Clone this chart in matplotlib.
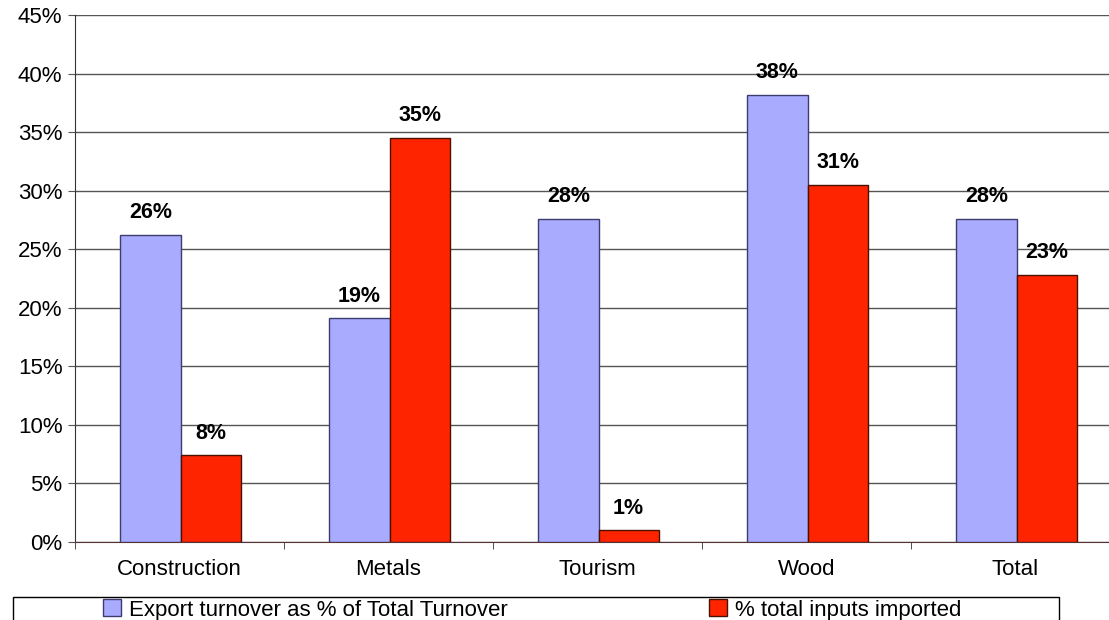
import matplotlib.pyplot as plt
from matplotlib.patches import Rectangle
import numpy as np

plt.rcParams['font.family'] = ['Liberation Sans', 'DejaVu Sans']

categories = ['Construction', 'Metals', 'Tourism', 'Wood', 'Total']
export_share = [26.2, 19.1, 27.6, 38.2, 27.6]
inputs_imported = [7.4, 34.5, 1.0, 30.5, 22.8]
export_labels = ['26%', '19%', '28%', '38%', '28%']
inputs_labels = ['8%', '35%', '1%', '31%', '23%']

W, H = 1109, 620
fig = plt.figure(figsize=(W / 100, H / 100), dpi=100)
# plot area runs a little past the right edge of the picture, as in the original
ax = fig.add_axes([75 / W, 1 - 542 / H, 1045 / W, 527 / H])

x = np.arange(len(categories))
w = 0.288
b1 = ax.bar(x - w / 2 + 0.005, export_share, w, color='#a9abff', edgecolor='#3c3c6e',
            linewidth=1, label='Export turnover as % of Total Turnover', zorder=3)
b2 = ax.bar(x + w / 2 + 0.005, inputs_imported, w, color='#ff2400', edgecolor='#4a1000',
            linewidth=1, label='% total inputs imported', zorder=3)

for bars, labels in ((b1, export_labels), (b2, inputs_labels)):
    for rect, lab in zip(bars, labels):
        ax.text(rect.get_x() + rect.get_width() / 2, rect.get_height() + 1.0, lab,
                ha='center', va='bottom', fontsize=15.5, fontweight='bold')

ax.set_xlim(-0.5, len(categories) - 0.5)
ax.set_ylim(0, 45)
ax.set_yticks(np.arange(0, 46, 5))
ax.set_yticklabels([f'{v}%' for v in range(0, 46, 5)], fontsize=16)
ax.yaxis.grid(True, color='#555555', linewidth=1, zorder=0)
ax.set_axisbelow(True)

ax.set_xticks(x)
ax.set_xticklabels(categories, fontsize=16)
ax.tick_params(axis='x', length=0, pad=12)
ax.set_xticks(np.arange(-0.5, len(categories), 1), minor=True)
ax.tick_params(axis='x', which='minor', length=5, color='#333333', direction='out')
ax.tick_params(axis='y', length=5, color='#555555', direction='out', pad=4)

for side in ('top', 'right'):
    ax.spines[side].set_visible(False)
ax.spines['left'].set_color('#333333')
ax.spines['bottom'].set_color('#553333')

# legend frame, running off the bottom edge like the original
fig.patches.append(Rectangle((13 / W, -0.01), (1059 - 13) / W, 0.01 + 23 / H,
                             transform=fig.transFigure, fill=False,
                             edgecolor='black', linewidth=1))
for handle, xpos in ((b1, 103), (b2, 709)):
    fig.legend(handles=[handle], loc='center left', bbox_to_anchor=(xpos / W, 1 - 610 / H),
               frameon=False, fontsize=16, handlelength=0.8, handleheight=0.8,
               handletextpad=0.35, borderpad=0, borderaxespad=0)

fig.savefig('out.png', dpi=100)
